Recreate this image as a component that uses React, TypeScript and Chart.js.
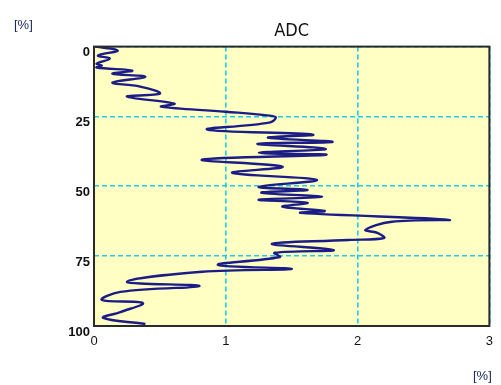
import React, { useEffect, useRef } from "react";
import { Chart, registerables } from "chart.js";

Chart.register(...registerables);

const depthPct: number[] = [
  0, 1.4, 3.2, 4.3, 6.1, 6.8, 7.5, 8.6, 9.7, 10.8, 12.9, 14.3, 16.8, 17.9, 20.4, 21.5, 23.3, 24.7,
  25.4, 27.2, 29.7, 31.5, 32.6, 34.1, 34.8, 36.6, 38.0, 38.7, 40.5, 43.0, 45.2, 47.7,
  50.2, 51.3, 52.3, 53.8, 54.8, 55.9, 57.3, 58.8, 59.5, 62.0, 62.7, 65.6, 66.7, 68.5,
  69.2, 70.6, 72.8, 73.8, 75.3, 78.1, 79.6, 80.6, 84.2, 85.7, 87.8, 90.7, 91.8, 95.0, 97.1, 99.3,
];
const adcPct: number[] = [
  0.01, 0.18, 0.03, 0.12, 0.02, 0.06, 0.02, 0.29, 0.14, 0.39, 0.14, 0.35, 0.5, 0.25, 0.61, 0.51, 1.0, 1.33,
  1.38, 1.33, 0.86, 1.66, 1.32, 1.81, 1.24, 1.76, 1.25, 1.76, 0.82, 1.43, 1.05, 1.69,
  1.25, 1.62, 1.27, 1.73, 1.25, 1.62, 1.43, 1.75, 1.57, 2.69, 2.26, 2.06, 2.15, 2.2,
  1.93, 1.35, 1.82, 1.37, 1.41, 0.94, 1.5, 0.82, 0.25, 0.8, 0.2, 0.06, 0.37, 0.2, 0.07, 0.39,
];
const xTicks: number[] = [0, 1, 2, 3];
const yTicks: number[] = [0, 25, 50, 75, 100];
const titleText = "ADC";
const unitText = "[%]";

export default function App() {
  const ref = useRef<HTMLCanvasElement | null>(null);
  useEffect(() => {
    if (!ref.current) return;
    const pts = depthPct.map((d, i) => ({ x: adcPct[i], y: d }));
    const framePlugin = {
      id: "frame",
      beforeDraw(chart: any) {
        const { ctx, chartArea: a } = chart;
        ctx.save();
        ctx.fillStyle = "#ffffc4";
        ctx.fillRect(a.left, a.top, a.right - a.left, a.bottom - a.top);
        ctx.restore();
      },
      afterDatasetsDraw(chart: any) {
        const { ctx, chartArea: a } = chart;
        ctx.save();
        ctx.strokeStyle = "#2a2a2a";
        ctx.lineWidth = 2;
        ctx.strokeRect(a.left, a.top, a.right - a.left, a.bottom - a.top);
        ctx.fillStyle = "#1a2a5a";
        ctx.font = "13px 'Liberation Sans', Arial, sans-serif";
        ctx.textBaseline = "middle";
        ctx.textAlign = "left";
        ctx.fillText(unitText, 14, 25);
        ctx.fillText(unitText, 473, 376);
        ctx.restore();
      },
    };
    const gridStyle = { color: "#1ccbf0", lineWidth: 1.6, drawTicks: false };
    const chart = new Chart(ref.current, {
      type: "line",
      data: {
        datasets: [
          {
            data: pts,
            borderColor: "#1c1c86",
            borderWidth: 2.4,
            pointRadius: 0,
            tension: 0.4,
            fill: false,
          },
        ],
      },
      options: {
        animation: false,
        responsive: false,
        layout: { padding: { left: 0, right: 10, top: 0, bottom: 0 } },
        plugins: {
          legend: { display: false },
          tooltip: { enabled: false },
          title: {
            display: true,
            text: titleText,
            fullSize: false,
            color: "#111",
            font: { size: 18, family: "'Liberation Sans Narrow', 'DejaVu Sans Condensed', sans-serif", weight: "normal" },
            padding: { top: 21, bottom: 4 },
          },
        },
        scales: {
          x: {
            type: "linear",
            min: 0,
            max: 3,
            afterFit(s: any) {
              s.height = 59;
            },
            afterBuildTicks(s: any) {
              s.ticks = xTicks.map((v) => ({ value: v }));
            },
            grid: gridStyle,
            border: { display: false, dash: [5, 3] },
            ticks: { color: "#111", padding: 8, font: { size: 13, family: "'Liberation Sans', Arial, sans-serif" } },
          },
          y: {
            type: "linear",
            min: 0,
            max: 100,
            reverse: true,
            afterFit(s: any) {
              s.width = 94;
            },
            afterBuildTicks(s: any) {
              s.ticks = yTicks.map((v) => ({ value: v }));
            },
            grid: gridStyle,
            border: { display: false, dash: [5, 3] },
            ticks: { color: "#111", padding: 4, labelOffset: 6, font: { size: 13, family: "'Liberation Sans', Arial, sans-serif", weight: "bold" } },
          },
        },
      },
      plugins: [framePlugin],
    } as any);
    return () => chart.destroy();
  }, []);
  return (
    <div style={{ position: "absolute", left: 0, top: 0, width: 501, height: 385 }}>
      <canvas ref={ref} width={501} height={385} style={{ width: 501, height: 385 }} />
    </div>
  );
}
